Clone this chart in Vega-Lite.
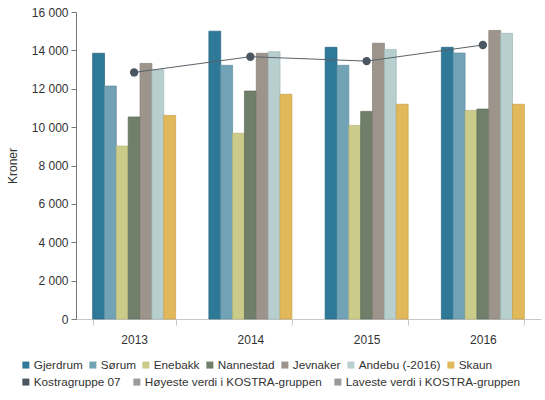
{
  "$schema": "https://vega.github.io/schema/vega-lite/v6.json",
  "autosize": "none",
  "width": 465,
  "height": 307,
  "padding": {"left": 76, "top": 12, "right": 4, "bottom": 81},
  "background": "white",
  "config": {
    "view": {"stroke": null},
    "font": "Liberation Sans",
    "axis": {"labelFont": "Liberation Sans", "titleFont": "Liberation Sans", "labelFontSize": 12, "labelColor": "#333333", "grid": false},
    "legend": {"labelFont": "Liberation Sans", "labelFontSize": 11.75, "labelColor": "#333333", "labelLimit": 400}
  },
  "datasets": {
    "bars": [
      {"year": "2013", "series": "Gjerdrum", "value": 13850},
      {"year": "2013", "series": "Sørum", "value": 12140},
      {"year": "2013", "series": "Enebakk", "value": 9010},
      {"year": "2013", "series": "Nannestad", "value": 10530},
      {"year": "2013", "series": "Jevnaker", "value": 13320},
      {"year": "2013", "series": "Andebu (-2016)", "value": 12990},
      {"year": "2013", "series": "Skaun", "value": 10610},
      {"year": "2014", "series": "Gjerdrum", "value": 15000},
      {"year": "2014", "series": "Sørum", "value": 13220},
      {"year": "2014", "series": "Enebakk", "value": 9680},
      {"year": "2014", "series": "Nannestad", "value": 11880},
      {"year": "2014", "series": "Jevnaker", "value": 13850},
      {"year": "2014", "series": "Andebu (-2016)", "value": 13930},
      {"year": "2014", "series": "Skaun", "value": 11710},
      {"year": "2015", "series": "Gjerdrum", "value": 14160},
      {"year": "2015", "series": "Sørum", "value": 13220},
      {"year": "2015", "series": "Enebakk", "value": 10090},
      {"year": "2015", "series": "Nannestad", "value": 10820},
      {"year": "2015", "series": "Jevnaker", "value": 14370},
      {"year": "2015", "series": "Andebu (-2016)", "value": 14050},
      {"year": "2015", "series": "Skaun", "value": 11190},
      {"year": "2016", "series": "Gjerdrum", "value": 14160},
      {"year": "2016", "series": "Sørum", "value": 13860},
      {"year": "2016", "series": "Enebakk", "value": 10870},
      {"year": "2016", "series": "Nannestad", "value": 10940},
      {"year": "2016", "series": "Jevnaker", "value": 15040},
      {"year": "2016", "series": "Andebu (-2016)", "value": 14890},
      {"year": "2016", "series": "Skaun", "value": 11190}
    ],
    "kostra": [
      {"year": "2013", "series": "Kostragruppe 07", "value": 12850},
      {"year": "2014", "series": "Kostragruppe 07", "value": 13670},
      {"year": "2015", "series": "Kostragruppe 07", "value": 13440},
      {"year": "2016", "series": "Kostragruppe 07", "value": 14280}
    ]
  },
  "encoding": {
    "x": {
      "field": "year", "type": "nominal", "title": null,
      "scale": {"paddingInner": 0.286, "paddingOuter": 0.143},
      "axis": {"labelAngle": 0, "domainColor": "#c8c8c8", "tickColor": "#c8c8c8", "tickBand": "extent", "tickSize": 6, "labelPadding": 9}
    },
    "y": {
      "field": "value", "type": "quantitative",
      "scale": {"domain": [0, 16000], "nice": false},
      "axis": {
        "title": "Kroner", "titleFontWeight": "normal", "titleFontSize": 12, "titleColor": "#333333", "titlePadding": 12,
        "values": [0, 2000, 4000, 6000, 8000, 10000, 12000, 14000, 16000],
        "labelExpr": "replace(format(datum.value, ','), ',', ' ')",
        "domainColor": "#777777", "tickColor": "#777777", "tickSize": 5, "labelPadding": 3
      }
    }
  },
  "layer": [
    {
      "data": {"name": "bars"},
      "mark": {"type": "bar", "strokeWidth": 1, "strokeOpacity": 0.7},
      "encoding": {
        "xOffset": {"field": "series", "type": "nominal", "sort": ["Gjerdrum", "Sørum", "Enebakk", "Nannestad", "Jevnaker", "Andebu (-2016)", "Skaun"], "scale": {"paddingInner": 0, "paddingOuter": 0}},
        "color": {
          "field": "series", "type": "nominal",
          "scale": {
            "domain": ["Gjerdrum", "Sørum", "Enebakk", "Nannestad", "Jevnaker", "Andebu (-2016)", "Skaun"],
            "range": ["#2e7898", "#72a2b6", "#cccc8a", "#6f7f6a", "#9d958c", "#b8cfcf", "#e2b95a"]
          },
          "legend": {
            "title": null, "orient": "none", "direction": "horizontal", "legendX": -56, "legendY": 347,
            "symbolType": "square", "symbolSize": 49, "symbolStrokeWidth": 0, "labelOffset": 2, "columnPadding": 4, "padding": 0
          }
        },
        "stroke": {
          "field": "series", "type": "nominal", "legend": null,
          "scale": {
            "domain": ["Gjerdrum", "Sørum", "Enebakk", "Nannestad", "Jevnaker", "Andebu (-2016)", "Skaun"],
            "range": ["#266680", "#5f8fa3", "#b5b577", "#5d6c58", "#857d75", "#9fb6b6", "#c9a048"]
          }
        }
      }
    },
    {
      "data": {"name": "kostra"},
      "mark": {"type": "line", "color": "#5a626a", "strokeWidth": 1},
      "encoding": {}
    },
    {
      "data": {"name": "kostra"},
      "mark": {"type": "point", "filled": true, "shape": "circle", "size": 70, "opacity": 1},
      "encoding": {
        "fill": {
          "field": "series", "type": "nominal",
          "scale": {"domain": ["Kostragruppe 07", "Høyeste verdi i KOSTRA-gruppen", "Laveste verdi i KOSTRA-gruppen"], "range": ["#4a5662", "#9a9a9a", "#9a9a9a"]},
          "legend": {
            "title": null, "orient": "none", "direction": "horizontal", "legendX": -56, "legendY": 364,
            "symbolType": "square", "symbolSize": 49, "symbolStrokeWidth": 0, "labelOffset": 2, "columnPadding": 10, "padding": 0,
            "encode": {"labels": {"update": {"fill": {"signal": "datum.label === 'Kostragruppe 07' ? '#333333' : '#999999'"}}}}
          }
        }
      }
    }
  ]
}
